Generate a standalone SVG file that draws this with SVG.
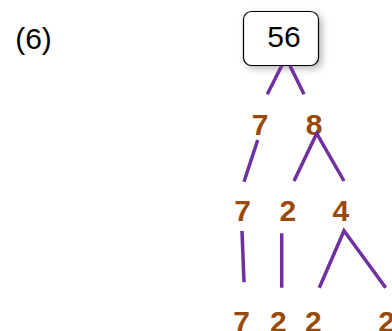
<svg xmlns="http://www.w3.org/2000/svg" width="392" height="331" viewBox="0 0 392 331">
<defs>
<filter id="sh" x="-30%" y="-30%" width="170%" height="170%">
<feDropShadow dx="3" dy="3" stdDeviation="3.5" flood-color="#000" flood-opacity="0.28"/>
</filter>
</defs>
<style>
.lbl{font-family:"Liberation Sans",Arial,sans-serif;font-size:30px;fill:#000;text-anchor:middle}
.num{font-family:"Liberation Sans",Arial,sans-serif;font-size:30px;font-weight:bold;fill:#994A0A;text-anchor:middle}
.c{stroke:#7030A0;stroke-width:3.5;fill:none;stroke-linecap:butt}
</style>
<rect width="392" height="331" fill="#fff"/>
<text id="title" class="lbl" x="33.5" y="48.5">(6)</text>
<g id="root">
<rect x="243.5" y="11.5" width="75" height="54" rx="8" fill="#fff" stroke="#000" stroke-width="1.2" filter="url(#sh)"/>
<text class="lbl" x="284" y="46.5">56</text>
</g>
<g id="n7a"><text class="num" x="260" y="134.5">7</text></g>
<g id="n8"><text class="num" x="314" y="134.5">8</text></g>
<g id="n7b"><text class="num" x="242.7" y="221">7</text></g>
<g id="n2a"><text class="num" x="287.8" y="221">2</text></g>
<g id="n4"><text class="num" x="340.8" y="221">4</text></g>
<g id="n7c"><text class="num" x="241.7" y="331.5">7</text></g>
<g id="n2b"><text class="num" x="278.3" y="331.5">2</text></g>
<g id="n2c"><text class="num" x="313.3" y="331.5">2</text></g>
<g id="n2d"><text class="num" x="386.7" y="331.5">2</text></g>
<g id="connectors">
<line class="c" x1="281.7" y1="65.7" x2="267.3" y2="94.3"/>
<line class="c" x1="290" y1="65.7" x2="304" y2="94.3"/>
<line class="c" x1="257.7" y1="140" x2="244" y2="181.7"/>
<polyline class="c" points="294,181 316.7,133.5 344,181"/>
<line class="c" x1="242" y1="231" x2="244" y2="282.3"/>
<line class="c" x1="281.7" y1="233.3" x2="281.7" y2="287.7"/>
<polyline class="c" points="319.3,287.7 344,230.7 385.7,287.7"/>
</g>
</svg>
